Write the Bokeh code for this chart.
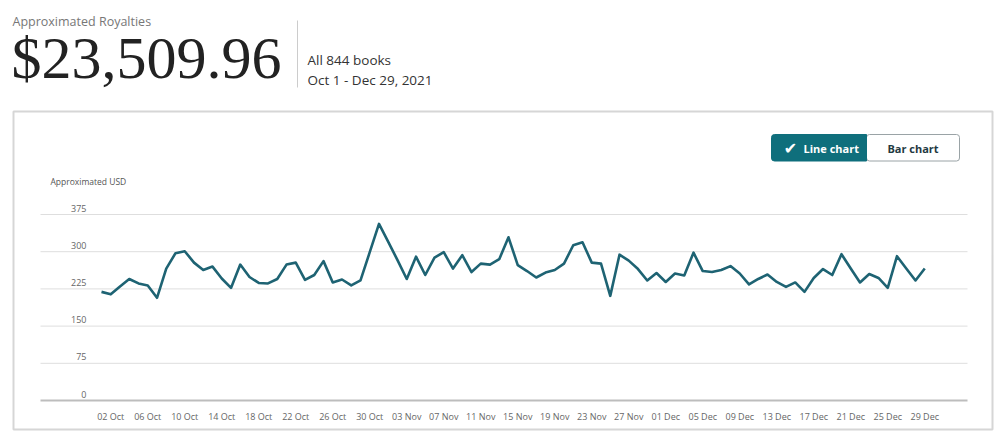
from bokeh.plotting import figure
from bokeh.models import Range1d
from bokeh.core.properties import value
from bokeh.embed import file_html
from bokeh.resources import INLINE

# ---------------- data ----------------
royalties = [
    219, 214, 230, 245, 236, 232, 207, 266, 297, 301,
    278, 263, 270, 246, 227, 274, 249, 237, 236, 245,
    274, 278, 243, 253, 281, 238, 244, 232, 242, 299,
    356, 320, 283, 245, 290, 253, 288, 299, 266, 293,
    259, 276, 274, 285, 329, 273, 261, 248, 258, 263,
    276, 313, 319, 278, 276, 211, 294, 282, 265, 242,
    257, 239, 256, 252, 298, 261, 259, 263, 271, 256,
    234, 245, 254, 239, 229, 238, 219, 247, 265, 253,
    295, 266, 238, 255, 247, 227, 291, 266, 242, 266,
]
days = list(range(len(royalties)))  # 0 = Oct 1, 2021 ... 89 = Dec 29, 2021

y_ticks = [0, 75, 150, 225, 300, 375]
y_tick_labels = ["0", "75", "150", "225", "300", "375"]

x_tick_days = [1, 5, 9, 13, 17, 21, 25, 29, 33, 37, 41, 45,
               49, 53, 57, 61, 65, 69, 73, 77, 81, 85, 89]
x_tick_labels = ["02 Oct", "06 Oct", "10 Oct", "14 Oct", "18 Oct", "22 Oct",
                 "26 Oct", "30 Oct", "03 Nov", "07 Nov", "11 Nov", "15 Nov",
                 "19 Nov", "23 Nov", "27 Nov", "01 Dec", "05 Dec", "09 Dec",
                 "13 Dec", "17 Dec", "21 Dec", "25 Dec", "29 Dec"]

total_label = "$23,509.96"
header_title = "Approximated Royalties"
books_label = "All 844 books"
period_label = "Oct 1 - Dec 29, 2021"
y_title = "Approximated USD"

# ---------------- layout constants (screenshot pixels) ----------------
W, H = 995, 432
PAGE_X0, PAGE_Y0 = 0, 0
DAY_PX = 9.25       # pixels per day
DAY0_X = 101.0      # x of first day
ZERO_Y = 400.0      # y of value 0
V_PX = 0.496        # pixels per USD


def px(xp):
    return (xp - DAY0_X) / DAY_PX


def py(yp):
    return (ZERO_Y - yp) / V_PX


p = figure(width=W, height=H,
           x_range=Range1d(px(PAGE_X0), px(PAGE_X0 + W)),
           y_range=Range1d(py(PAGE_Y0 + H), py(PAGE_Y0)),
           output_backend="svg", toolbar_location=None,
           x_axis_location=None, y_axis_location=None,
           min_border=0, tools="")
p.min_border_left = p.min_border_right = p.min_border_top = p.min_border_bottom = 0
p.outline_line_color = None
p.xgrid.visible = False
p.ygrid.visible = False
p.background_fill_color = "white"
p.border_fill_color = "white"

SANS = value("Open Sans")
TEAL = "#0f6f7c"
LINE = "#1e6373"

# header
p.text(x=[px(12)], y=[py(21)], text=[header_title], text_font=SANS,
       text_font_size="12.5px", text_color="#777777",
       text_align="left", text_baseline="middle")
p.text(x=[px(11)], y=[py(57.5)], text=[total_label],
       text_font=value("Liberation Serif"), text_font_size="60px",
       text_color="#222222", text_align="left", text_baseline="middle")
p.segment(x0=[px(297)], x1=[px(297)], y0=[py(20)], y1=[py(87)],
          line_color="#cccccc", line_width=1)
p.text(x=[px(307)], y=[py(59)], text=[books_label], text_font=SANS,
       text_font_size="13.5px", text_color="#333333",
       text_align="left", text_baseline="middle")
p.text(x=[px(307)], y=[py(79)], text=[period_label], text_font=SANS,
       text_font_size="13.5px", text_color="#333333",
       text_align="left", text_baseline="middle")

# chart box
p.quad(left=[px(13)], right=[px(992)], top=[py(111)], bottom=[py(429)],
       fill_color=None, line_color="#d6d6d6", line_width=2)

# toggle buttons
p.quad(left=[px(866)], right=[px(959)], top=[py(134)], bottom=[py(160.5)],
       fill_color="white", line_color="#9aa3a6", line_width=1, border_radius=3)
p.quad(left=[px(771)], right=[px(866)], top=[py(134)], bottom=[py(160.5)],
       fill_color=TEAL, line_color=TEAL, line_width=1,
       border_radius={"top_left": 3, "bottom_left": 3, "top_right": 0, "bottom_right": 0})
p.text(x=[px(790)], y=[py(147.5)], text=["\u2714"], text_font=value("DejaVu Sans"),
       text_font_size="16px", text_color="white",
       text_align="center", text_baseline="middle")
p.text(x=[px(803)], y=[py(147.5)], text=["Line chart"], text_font=SANS,
       text_font_size="11px", text_font_style="bold", text_color="white",
       text_align="left", text_baseline="middle")
p.text(x=[px(912.5)], y=[py(147.5)], text=["Bar chart"], text_font=SANS,
       text_font_size="11px", text_font_style="bold", text_color="#1f3a42",
       text_align="center", text_baseline="middle")

# axis title
p.text(x=[px(50)], y=[py(181)], text=[y_title], text_font=SANS,
       text_font_size="8.5px", text_color="#555555",
       text_align="left", text_baseline="middle")

# gridlines
n = len(y_ticks)
p.segment(x0=[px(40)] * n, x1=[px(967)] * n, y0=y_ticks, y1=y_ticks,
          line_color=["#bdbdbd"] + ["#dedede"] * (n - 1),
          line_width=[2] + [1] * (n - 1))

# y tick labels (above their gridlines)
p.text(x=[px(86)] * n, y=y_ticks, text=y_tick_labels, text_font=SANS,
       text_font_size="9px", text_color="#666666",
       text_align="right", text_baseline="middle", y_offset=-6.5)

# x tick labels
p.text(x=x_tick_days, y=[py(416)] * len(x_tick_days), text=x_tick_labels,
       text_font=SANS, text_font_size="9px", text_color="#666666",
       text_align="center", text_baseline="middle")

# series
p.line(days, royalties, line_color=LINE, line_width=2.6, line_join="round")

open("out.html", "w").write(file_html(p, INLINE))
